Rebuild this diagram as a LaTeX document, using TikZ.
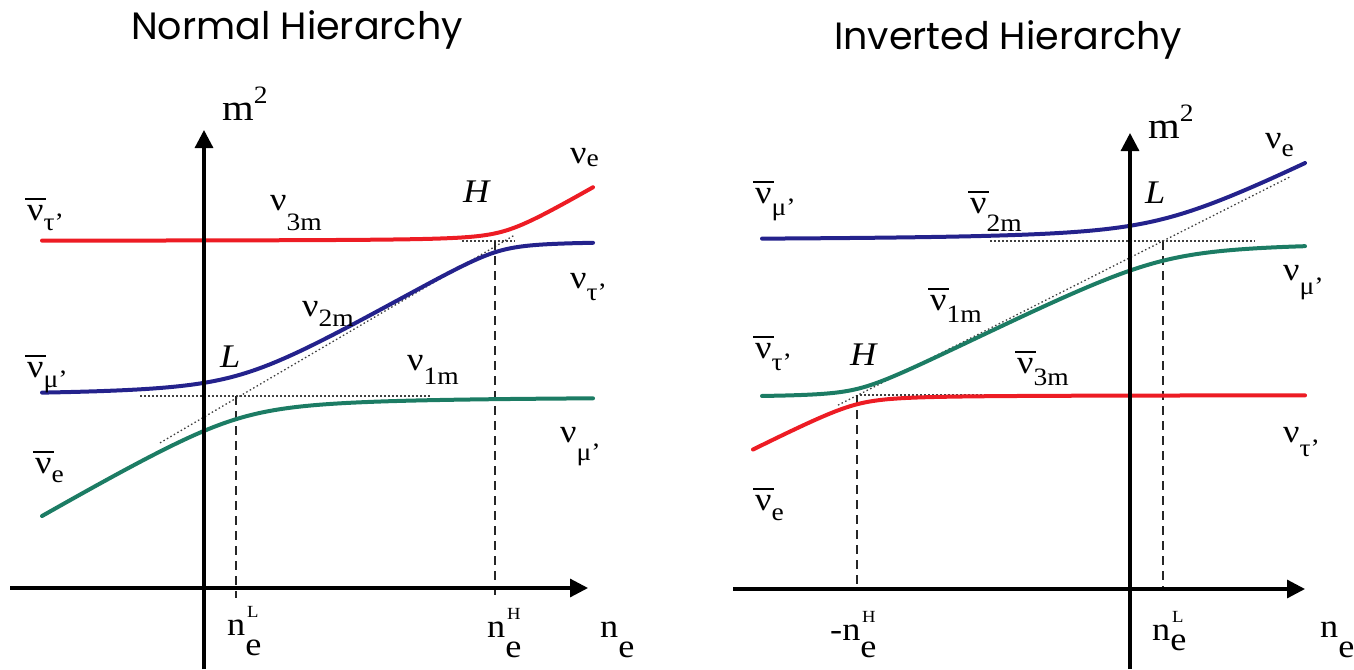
\documentclass[tikz,border=0pt]{standalone}
\usepackage{fontspec}
\setmainfont{Liberation Serif}[FakeStretch=1.1]
\newfontfamily\titlefont{Poppins}
\usetikzlibrary{arrows.meta}

\definecolor{levred}{RGB}{237,28,36}
\definecolor{levblue}{RGB}{36,34,140}
\definecolor{levgreen}{RGB}{28,124,100}

\newcommand{\labsize}{\fontsize{33}{36}\selectfont}
\newcommand{\subsize}{\fontsize{25}{27}\selectfont}
\newcommand{\supsize}{\fontsize{17}{18}\selectfont}
\newcommand{\barnu}{\makebox[0pt][l]{\hspace{-0.06em}\rule[0.6em]{0.64em}{0.08em}}ν}
% nu with a lowered subscript, plain or barred
\newcommand{\nulab}[2][7pt]{\labsize ν\raisebox{-#1}{\subsize #2}}
\newcommand{\nubarlab}[2][7pt]{\labsize\barnu\raisebox{-#1}{\subsize #2}}
% density labels n_e with a small upper index
\newcommand{\nelab}[3][20pt]{\labsize #2n\makebox[0pt][l]{\raisebox{18pt}{\supsize\hspace{0.1em}#3}}\raisebox{-#1}{e}}

\begin{document}
\begin{tikzpicture}[x=1pt, y=-1pt, >={Triangle[length=18pt,width=18pt]},
  declare function={
    DN(\x)=512-0.586*(\x-42);
    DI(\x)=395-0.505*(\x-858);
    upb(\a,\b,\d)=(\a+\b)/2-10*veclen((\a-\b)/20,\d/10);
    lob(\a,\b,\d)=(\a+\b)/2+10*veclen((\a-\b)/20,\d/10);
  },
  level/.style={line width=4pt, line cap=round},
  guide/.style={line width=1.3pt, dash pattern=on 1.5pt off 2.5pt, black!75},
  drop/.style={line width=1.6pt, dash pattern=on 9pt off 6pt, black!85},
  axis/.style={line width=3.2pt, ->},
  lab/.style={inner sep=0pt, anchor=base west}]
  \useasboundingbox (0,0) rectangle (1354,669);

  % titles
  \node[inner sep=0pt, anchor=base] (titleN) at (297,40) {\titlefont\fontsize{38}{40}\selectfont Normal Hierarchy};
  \node[inner sep=0pt, anchor=base] (titleI) at (1008,50) {\titlefont\fontsize{38}{40}\selectfont Inverted Hierarchy};

  % ---- normal hierarchy ----
  \draw[guide] (160,{DN(160)}) -- (515,{DN(515)});
  \draw[guide] (140,396) -- (430,396);
  \draw[guide] (462,241) -- (515,241);
  \draw[drop] (236,396) -- (236,598);
  \draw[drop] (495,241) -- (495,598);
  \draw[level, levred] plot[domain=42:593, samples=120] (\x, {upb(DN(\x),241,10)});
  \draw[level, levblue] plot[domain=42:593, samples=120] (\x, {lob(upb(DN(\x),396,22),241,10)});
  \draw[level, levgreen] plot[domain=42:593, samples=120] (\x, {lob(DN(\x),396,22)});
  \draw[axis] (204,669) -- (204,130);
  \draw[axis] (10,588) -- (588,588);

  \node[lab] (mN) at (222,120) {\fontsize{37}{40}\selectfont m\raisebox{17pt}{\subsize 2}};
  \node[lab] (tauN) at (27,220) {\nubarlab[10pt]{τ’}};
  \node[lab] (threeN) at (270,210) {\nulab[20pt]{3m}};
  \node[lab] (HN) at (463,202) {\labsize\itshape H};
  \node[lab] (eN) at (570,163) {\nulab[3pt]{e}};
  \node[lab] (tauRN) at (570,288) {\nulab[12pt]{τ’}};
  \node[lab] (twoN) at (302,316) {\nulab[10pt]{2m}};
  \node[lab] (muN) at (27,377) {\nubarlab[10pt]{μ’}};
  \node[lab] (LN) at (220,367) {\labsize\itshape L};
  \node[lab] (oneN) at (407,370) {\nulab[14pt]{1m}};
  \node[lab] (muRN) at (560,442) {\nulab[18pt]{μ’}};
  \node[lab] (ebarN) at (35,473) {\nubarlab[9pt]{e}};
  \node[lab] (nLN) at (227,635) {\nelab[20pt]{}{L}};
  \node[lab] (nHN) at (487,637) {\nelab[20pt]{}{H}};
  \node[lab] (axN) at (600,637) {\labsize n\raisebox{-20pt}{e}};

  % ---- inverted hierarchy ----
  \draw[guide] (838,{DI(838)}) -- (1290,{DI(1290)});
  \draw[guide] (860,395) -- (1010,395);
  \draw[guide] (990,241) -- (1255,241);
  \draw[drop] (857,395) -- (857,590);
  \draw[drop] (1163,241) -- (1163,590);
  \draw[level, levblue] plot[domain=762:1305, samples=120] (\x, {upb(DI(\x),241,22)});
  \draw[level, levgreen] plot[domain=762:1305, samples=120] (\x, {lob(upb(DI(\x),395,9),241,20)});
  \draw[level, levred] plot[domain=753:1305, samples=120] (\x, {lob(DI(\x),395,9)});
  \draw[axis] (1130,669) -- (1130,133);
  \draw[axis] (733,589) -- (1305,589);

  \node[lab] (mI) at (1148,138) {\fontsize{37}{40}\selectfont m\raisebox{17pt}{\subsize 2}};
  \node[lab] (muI) at (755,203) {\nubarlab[12pt]{μ’}};
  \node[lab] (twoI) at (970,213) {\nubarlab[18pt]{2m}};
  \node[lab] (oneI) at (930,310) {\nubarlab[12pt]{1m}};
  \node[lab] (LI) at (1145,203) {\labsize\itshape L};
  \node[lab] (eI) at (1265,148) {\nulab[8pt]{e}};
  \node[lab] (muRI) at (1283,280) {\nulab[14pt]{μ’}};
  \node[lab] (tauI) at (755,358) {\nubarlab[12pt]{τ’}};
  \node[lab] (HI) at (850,365) {\labsize\itshape H};
  \node[lab] (threeI) at (1017,373) {\nubarlab[12pt]{3m}};
  \node[lab] (tauRI) at (1283,442) {\nulab[14pt]{τ’}};
  \node[lab] (ebarI) at (755,510) {\nubarlab[10pt]{e}};
  \node[lab] (nHI) at (830,640) {\nelab[17pt]{-}{H}};
  \node[lab] (nLI) at (1152,640) {\nelab[10pt]{}{L}};
  \node[lab] (axI) at (1320,637) {\labsize n\raisebox{-20pt}{e}};
\end{tikzpicture}
\end{document}
